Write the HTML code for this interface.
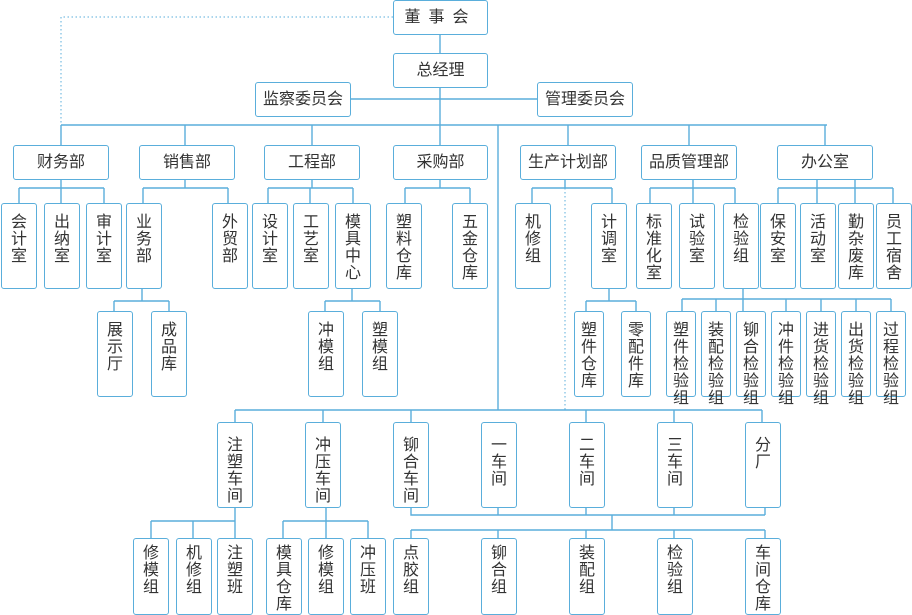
<!DOCTYPE html>
<html><head><meta charset="utf-8"><style>
body{margin:0;background:#fff;width:912px;height:615px;position:relative;overflow:hidden;font-family:"Liberation Sans","Noto Sans CJK SC",sans-serif;color:#333}
.b{position:absolute;border:1.3px solid #5aaedb;border-radius:3px;box-sizing:border-box;background:#fff;text-align:center;font-size:16px}
.h{height:35px;line-height:33px}
.v{width:36px;height:86px;line-height:17px;padding:10px 9px 0;word-break:break-all}
svg{position:absolute;left:0;top:0}
</style></head><body>
<svg width="912" height="615" fill="none" stroke="#5aaedb" stroke-width="1.4">
<path d="M393 17H61V125" stroke-dasharray="1.5 2.5" stroke-width="1"/>
<path d="M565 180V410" stroke-dasharray="1.5 2.5" stroke-width="1"/>
<path d="M440 35V53M440 88V125M350 99H537M61 125H827M61 125V145M185 125V145M312 125V145M440 125V145M568 125V145M689 125V145M825 125V145M498 125V410"/>
<path d="M61 179V188M19 188H104M19 188V203M61 188V203M104 188V203"/>
<path d="M185 179V188M143 188H228M143 188V203M228 188V203"/>
<path d="M312 179V188M268 188H353M268 188V203M310 188V203M353 188V203"/>
<path d="M440 179V188M405 188H470M405 188V203M470 188V203"/>
<path d="M565 179V188M532 188H612M532 188V203M612 188V203"/>
<path d="M693 179V188M650 188H735M650 188V203M693 188V203M735 188V203"/>
<path d="M817 179V188M855 179V188M778 188H893M778 188V203M817 188V203M855 188V203M893 188V203"/>
<path d="M142 289V301M114 301H169M114 301V311M169 301V311"/>
<path d="M352 289V301M325 301H380M325 301V311M380 301V311"/>
<path d="M609 289V301M586 301H636M586 301V311M636 301V311"/>
<path d="M743 289V299M682 299H891M682 299V311M716 299V311M743 299V311M786 299V311M821 299V311M856 299V311M891 299V311"/>
<path d="M235 410H762M235 410V422M323 410V422M411 410V422M586 410V422M674 410V422M762 410V422"/>
<path d="M235 508V538M151 521H235M151 521V538M193 521V538"/>
<path d="M326 508V538M283 521H368M283 521V538M368 521V538"/>
<path d="M411 508V515H765M498 508V515M586 508V515M674 508V515M765 508V515M612 515V530M411 530H765M411 530V538M498 530V538M586 530V538M674 530V538M765 530V538"/>
</svg>
<div class="b h" style="left:393px;top:0;width:95px;letter-spacing:8px">董事会</div>
<div class="b h" style="left:393px;top:53px;width:95px">总经理</div>
<div class="b h" style="left:255px;top:82px;width:96px">监察委员会</div>
<div class="b h" style="left:537px;top:82px;width:96px">管理委员会</div>
<div class="b h" style="left:13px;top:145px;width:96px">财务部</div>
<div class="b h" style="left:139px;top:145px;width:96px">销售部</div>
<div class="b h" style="left:264px;top:145px;width:96px">工程部</div>
<div class="b h" style="left:393px;top:145px;width:95px">采购部</div>
<div class="b h" style="left:520px;top:145px;width:96px">生产计划部</div>
<div class="b h" style="left:641px;top:145px;width:96px">品质管理部</div>
<div class="b h" style="left:777px;top:145px;width:96px">办公室</div>

<div class="b v" style="left:1px;top:203px">会计室</div>
<div class="b v" style="left:44px;top:203px">出纳室</div>
<div class="b v" style="left:86px;top:203px">审计室</div>
<div class="b v" style="left:126px;top:203px">业务部</div>
<div class="b v" style="left:212px;top:203px">外贸部</div>
<div class="b v" style="left:252px;top:203px">设计室</div>
<div class="b v" style="left:293px;top:203px">工艺室</div>
<div class="b v" style="left:335px;top:203px">模具中心</div>
<div class="b v" style="left:386px;top:203px">塑料仓库</div>
<div class="b v" style="left:452px;top:203px">五金仓库</div>
<div class="b v" style="left:515px;top:203px">机修组</div>
<div class="b v" style="left:591px;top:203px">计调室</div>
<div class="b v" style="left:636px;top:203px">标准化室</div>
<div class="b v" style="left:679px;top:203px">试验室</div>
<div class="b v" style="left:723px;top:203px">检验组</div>
<div class="b v" style="left:760px;top:203px">保安室</div>
<div class="b v" style="left:800px;top:203px">活动室</div>
<div class="b v" style="left:838px;top:203px">勤杂废库</div>
<div class="b v" style="left:876px;top:203px">员工宿舍</div>

<div class="b v" style="left:97px;top:311px">展示厅</div>
<div class="b v" style="left:151px;top:311px">成品库</div>
<div class="b v" style="left:308px;top:311px">冲模组</div>
<div class="b v" style="left:362px;top:311px">塑模组</div>
<div class="b v" style="left:574px;top:311px;width:30px;padding:10px 6px 0">塑件仓库</div>
<div class="b v" style="left:621px;top:311px;width:30px;padding:10px 6px 0">零配件库</div>
<div class="b v" style="left:666px;top:311px;width:30px;padding:10px 6px 0">塑件检验组</div>
<div class="b v" style="left:701px;top:311px;width:30px;padding:10px 6px 0">装配检验组</div>
<div class="b v" style="left:736px;top:311px;width:30px;padding:10px 6px 0">铆合检验组</div>
<div class="b v" style="left:771px;top:311px;width:30px;padding:10px 6px 0">冲件检验组</div>
<div class="b v" style="left:806px;top:311px;width:30px;padding:10px 6px 0">进货检验组</div>
<div class="b v" style="left:841px;top:311px;width:30px;padding:10px 6px 0">出货检验组</div>
<div class="b v" style="left:876px;top:311px;width:30px;padding:10px 6px 0">过程检验组</div>

<div class="b v" style="left:217px;top:422px;padding-top:14px">注塑车间</div>
<div class="b v" style="left:305px;top:422px;padding-top:14px">冲压车间</div>
<div class="b v" style="left:393px;top:422px;padding-top:14px">铆合车间</div>
<div class="b v" style="left:481px;top:422px;padding-top:14px">一车间</div>
<div class="b v" style="left:569px;top:422px;padding-top:14px">二车间</div>
<div class="b v" style="left:657px;top:422px;padding-top:14px">三车间</div>
<div class="b v" style="left:745px;top:422px;padding-top:14px">分厂</div>

<div class="b v" style="left:133px;top:538px;height:77px;padding-top:6px">修模组</div>
<div class="b v" style="left:176px;top:538px;height:77px;padding-top:6px">机修组</div>
<div class="b v" style="left:217px;top:538px;height:77px;padding-top:6px">注塑班</div>
<div class="b v" style="left:266px;top:538px;height:77px;padding-top:6px">模具仓库</div>
<div class="b v" style="left:308px;top:538px;height:77px;padding-top:6px">修模组</div>
<div class="b v" style="left:350px;top:538px;height:77px;padding-top:6px">冲压班</div>
<div class="b v" style="left:393px;top:538px;height:77px;padding-top:6px">点胶组</div>
<div class="b v" style="left:481px;top:538px;height:77px;padding-top:6px">铆合组</div>
<div class="b v" style="left:569px;top:538px;height:77px;padding-top:6px">装配组</div>
<div class="b v" style="left:657px;top:538px;height:77px;padding-top:6px">检验组</div>
<div class="b v" style="left:745px;top:538px;height:77px;padding-top:6px">车间仓库</div>
</body></html>
